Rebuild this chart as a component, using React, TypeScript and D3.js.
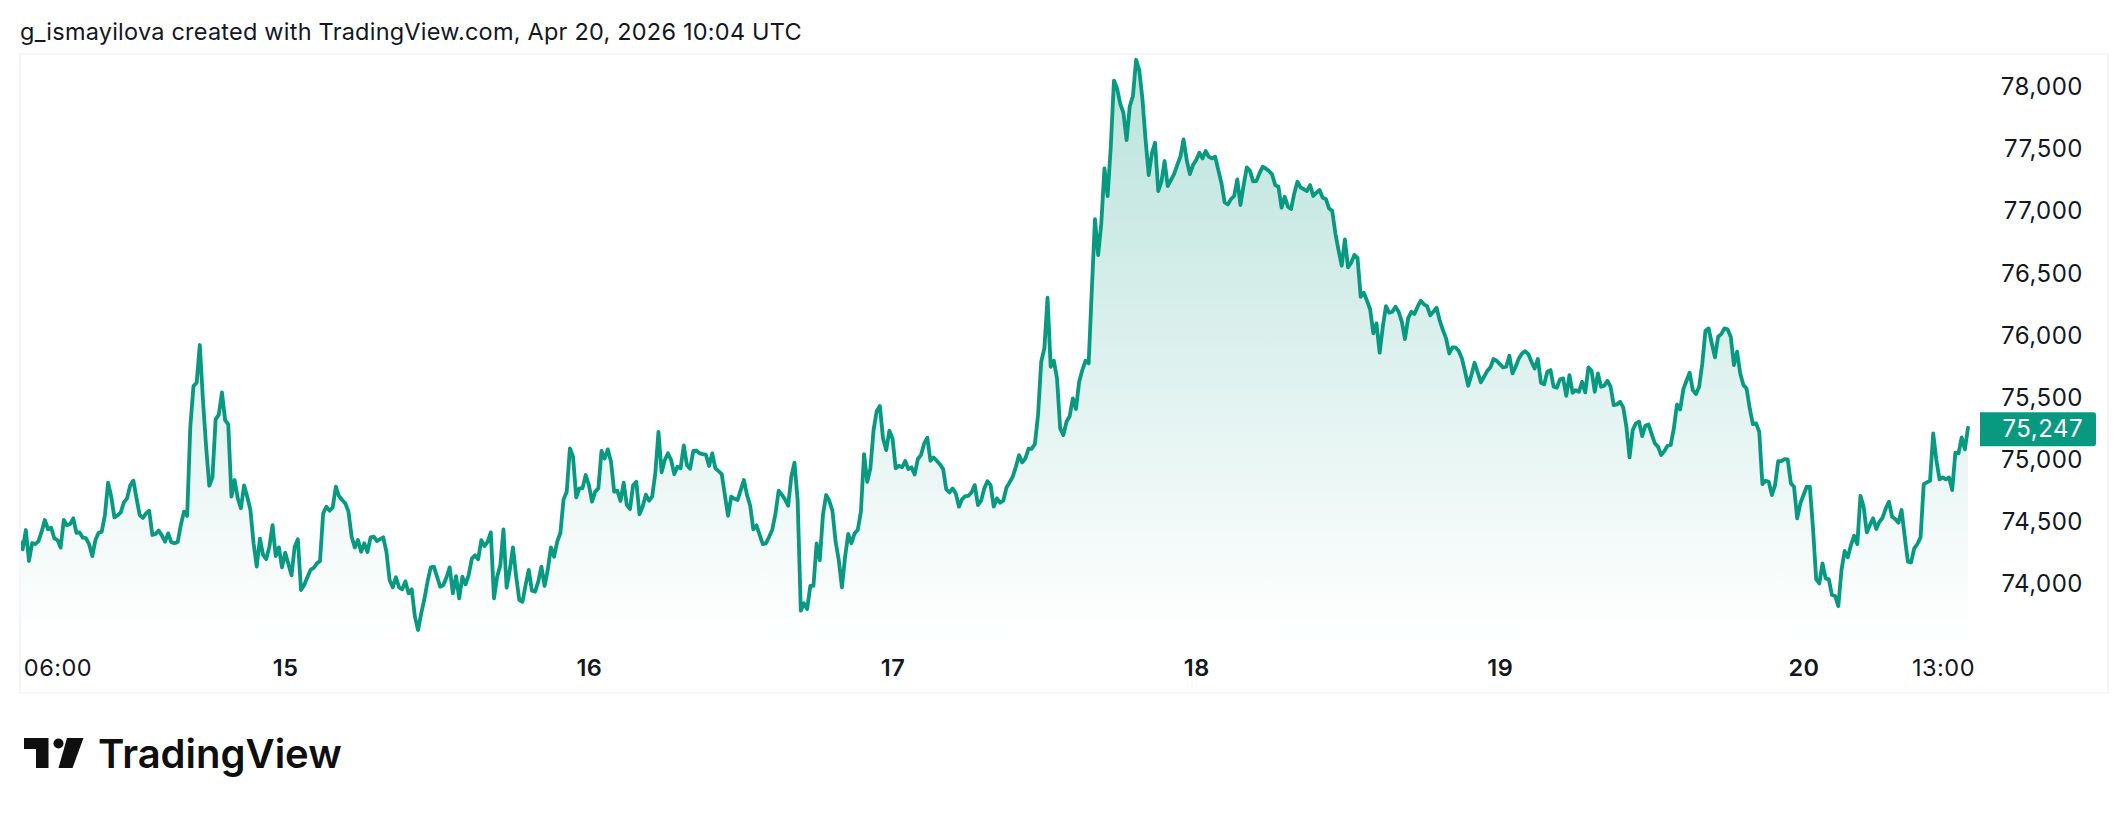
import React, { useEffect, useRef } from 'react';
import * as d3 from 'd3';

// 15 minute closes, one run per stretch of the chart
const seriesStart = Date.UTC(2026, 3, 14, 3, 0);
const slotMinutes = 15;

const run1Start = 0;
const run1 = [
  74337, 74267, 74423, 74173, 74318, 74310, 74334, 74410, 74504, 74428, 74442, 74356, 74342, 74281, 74504, 74461,
  74471, 74517, 74401, 74404, 74361, 74358, 74310, 74213, 74342, 74401, 74410, 74544, 74804, 74692, 74525, 74541,
  74565, 74646, 74678, 74783, 74821, 74678, 74544, 74520, 74557, 74579, 74383, 74391, 74418, 74380, 74329, 74396,
  74324, 74316, 74326, 74463, 74571, 74536, 75256, 75583, 75610, 75914, 75471, 75094, 74780, 74847, 75315, 75352,
  75532, 75309, 75274, 74692, 74826, 74678, 74598, 74783, 74692, 74584, 74316, 74128, 74353, 74222, 74189, 74289,
  74463, 74213, 74283, 74122, 74240, 74149, 74058, 74289, 74348,
];

const run2Start = 89;
const run2 = [
  73939, 73980, 74042, 74101, 74117, 74154, 74173, 74557, 74611, 74579, 74603, 74772, 74697, 74665, 74638, 74571,
  74369, 74283, 74342, 74248, 74316, 74246, 74364, 74369, 74334, 74350, 74364, 74248, 74020, 73961, 74042, 73961,
  73945, 74009, 73913, 73945, 73725, 73617, 73751, 73867, 74007, 74122, 74128, 74047, 73966, 73980, 74042, 74122,
  73913, 74052, 73872, 74047, 73985, 74060, 74192, 74219, 74187, 74342, 74294, 74329, 74404, 73872, 74047, 74138,
  74428, 73958, 74101, 74283, 74052, 73859, 73845, 73980, 74101, 73934, 73926, 74007, 74128, 73972, 74101, 74283,
  74208, 74329, 74401, 74670, 74732, 75081, 75014, 74686, 74759, 74761,
];

const run3Start = 179;
const run3 = [
  74866, 74786, 74651, 74732, 74759, 75060, 75000, 75073, 74974, 74732, 74740, 74657, 74804, 74624, 74592, 74786,
  74812, 74549, 74611, 74708, 74659, 74692, 74880, 75213, 74888, 74987, 75041, 74987, 74874, 74933, 74920, 75105,
  74947, 74917, 75060, 75062, 75041, 75035, 75030, 74939, 75041, 74920, 74898, 74874, 74705, 74538, 74692, 74675,
  74665, 74745, 74826, 74705, 74619, 74428, 74461, 74383, 74310, 74316, 74369, 74428, 74557, 74740, 74708, 74670,
  74619, 74853, 74966, 74665, 73773, 73832, 73786, 73972, 73972, 74316, 74181, 74544, 74705, 74659, 74579, 74329,
  74181, 73961, 74208, 74391, 74316, 74396, 74423, 74571, 75035, 74812, 74920,
];

const run4Start = 270;
const run4 = [
  75228, 75382, 75422, 75161, 75067, 75223, 75161, 74920, 74941, 74928, 74979, 74914, 74928, 74871, 74995, 75027,
  75121, 75167, 74981, 75008, 74981, 74952, 74914, 74750, 74726, 74758, 74718, 74611, 74672, 74697, 74699, 74726,
  74785, 74624, 74659, 74758, 74817, 74785, 74611, 74678, 74643, 74659, 74764, 74807, 74852, 74933, 75027, 74968,
  75000, 75078, 75078, 75116, 75349, 75779, 75887, 76295, 75739, 75787, 75645, 75242, 75188, 75296, 75341, 75484,
  75398, 75618, 75712, 75787, 75766, 76357, 76929, 76639, 76894, 77337, 77114, 77512, 78045, 77981, 77857, 77786,
  77565, 77838, 77920, 78213, 78130, 77899, 77565, 77284, 77461,
];

const run5Start = 359;
const run5 = [
  77544, 77155, 77230, 77397, 77195, 77243, 77292, 77364, 77431, 77571, 77405, 77292, 77364, 77405, 77464, 77418,
  77477, 77431, 77418, 77431, 77324, 77217, 77063, 77047, 77090, 77115, 77249, 77042, 77203, 77346, 77319, 77233,
  77235, 77297, 77351, 77337, 77316, 77289, 77203, 77190, 77021, 77109, 77029, 77010, 77136, 77230, 77184, 77171,
  77155, 77203, 77115, 77141, 77163, 77101, 77090, 77015, 76996, 76814, 76679, 76553, 76765, 76540, 76577, 76639,
  76618, 76303, 76336, 76271, 76201, 76008, 76088, 75852, 76062, 76228, 76174, 76182, 76223, 76182, 76102, 75962,
  76129, 76182, 76164, 76223, 76271, 76242, 76228, 76153, 76182, 76215, 76110,
];

const run6Start = 450;
const run6 = [
  76034, 75967, 75846, 75895, 75895, 75865, 75806, 75699, 75586, 75672, 75771, 75693, 75613, 75658, 75704, 75734,
  75801, 75787, 75760, 75734, 75739, 75828, 75685, 75739, 75806, 75846, 75865, 75841, 75779, 75725, 75801, 75610,
  75597, 75699, 75712, 75578, 75570, 75637, 75645, 75505, 75672, 75529, 75551, 75537, 75618, 75532, 75734, 75707,
  75537, 75685, 75578, 75586, 75626, 75578, 75430, 75435, 75457, 75411, 75255, 75008, 75229, 75282, 75296, 75180,
  75263, 75274, 75196, 75121, 75094, 75027, 75059, 75102, 75108, 75242, 75435, 75395, 75556, 75626, 75691, 75551,
  75519, 75578,
];

const run7Start = 532;
const run7 = [
  75766, 76029, 76048, 75927, 75814, 75981, 76002, 76048, 76040, 75981, 75752, 75860, 75685, 75591, 75564, 75403,
  75277, 75282, 75215, 74793, 74820, 74812, 74705, 74785, 74979, 74979, 74995, 74992, 74799, 74772, 74517, 74638,
  74705, 74772, 74772, 74436, 74028, 73993, 74154, 74033, 74025, 73899, 73891, 73810, 74100, 74254, 74203, 74302,
  74377, 74310, 74699, 74611, 74404, 74463, 74517, 74431, 74490, 74522, 74597, 74651, 74530, 74511, 74482, 74584,
  74369, 74168, 74162, 74275, 74310, 74364, 74793, 74807, 74820, 75202, 74987, 74831, 74847, 74831, 74847, 74745,
  75046, 75041, 75170, 75073, 75247,
];

const priceTicks = [74000, 74500, 75000, 75500, 76000, 76500, 77000, 77500, 78000];
const lastPrice = 75247;

const timeTicks = [
  { at: Date.UTC(2026, 3, 14, 6, 0), label: '06:00', bold: false, shift: 0 },
  { at: Date.UTC(2026, 3, 15), label: '15', bold: true, shift: 0 },
  { at: Date.UTC(2026, 3, 16), label: '16', bold: true, shift: 0 },
  { at: Date.UTC(2026, 3, 17), label: '17', bold: true, shift: 0 },
  { at: Date.UTC(2026, 3, 18), label: '18', bold: true, shift: 0 },
  { at: Date.UTC(2026, 3, 19), label: '19', bold: true, shift: 0 },
  { at: Date.UTC(2026, 3, 20), label: '20', bold: true, shift: 0 },
  { at: Date.UTC(2026, 3, 20, 13, 0), label: '13:00', bold: false, shift: -25 },
];

const titleText = 'g_ismayilova created with TradingView.com, Apr 20, 2026 10:04 UTC';

interface Point {
  time: number;
  price: number;
}

const toPoints = (start: number, prices: number[]): Point[] =>
  prices.map((price, i) => ({
    time: seriesStart + (start + i) * slotMinutes * 60000,
    price,
  }));

const points: Point[] = [
  ...toPoints(run1Start, run1),
  ...toPoints(run2Start, run2),
  ...toPoints(run3Start, run3),
  ...toPoints(run4Start, run4),
  ...toPoints(run5Start, run5),
  ...toPoints(run6Start, run6),
  ...toPoints(run7Start, run7),
];

const width = 2128;
const height = 814;
const fontFamily = 'Inter, "Noto Sans", sans-serif';
const green = '#089981';
const ink = '#131722';

const App: React.FC = () => {
  const ref = useRef<SVGSVGElement>(null);

  useEffect(() => {
    const svg = d3.select(ref.current);
    svg.selectAll('*').remove();

    const frame = { left: 20, right: 2108, top: 54, bottom: 693 };
    const paneBottom = 640;

    const x = d3.scaleUtc()
      .domain([seriesStart, Date.UTC(2026, 3, 20, 13, 0)])
      .range([19.5, 1968]);
    const y = d3.scaleLinear()
      .domain([74000, 78000])
      .range([582.5, 86.2]);

    svg.append('rect')
      .attr('width', width)
      .attr('height', height)
      .attr('fill', '#ffffff');

    svg.append('text')
      .attr('x', 20)
      .attr('y', 40)
      .attr('fill', ink)
      .style('font-size', '23.5px')
      .style('letter-spacing', '0.22px')
      .text(titleText);

    svg.append('rect')
      .attr('x', frame.left)
      .attr('y', frame.top)
      .attr('width', frame.right - frame.left)
      .attr('height', frame.bottom - frame.top)
      .attr('fill', 'none')
      .attr('stroke', '#f0f3fa')
      .attr('stroke-width', 1.5);

    const defs = svg.append('defs');
    const gradient = defs.append('linearGradient')
      .attr('id', 'areaFill')
      .attr('gradientUnits', 'userSpaceOnUse')
      .attr('x1', 0)
      .attr('x2', 0)
      .attr('y1', y(78213))
      .attr('y2', paneBottom);
    gradient.append('stop').attr('offset', 0).attr('stop-color', green).attr('stop-opacity', 0.28);
    gradient.append('stop').attr('offset', 1).attr('stop-color', green).attr('stop-opacity', 0);

    defs.append('clipPath')
      .attr('id', 'paneClip')
      .append('rect')
      .attr('x', frame.left + 1)
      .attr('y', frame.top)
      .attr('width', frame.right - frame.left)
      .attr('height', frame.bottom - frame.top);

    const chart = svg.append('g').attr('clip-path', 'url(#paneClip)');

    const area = d3.area<Point>()
      .x(d => x(d.time))
      .y0(paneBottom)
      .y1(d => y(d.price));
    const line = d3.line<Point>()
      .x(d => x(d.time))
      .y(d => y(d.price));

    chart.append('path')
      .attr('d', area(points))
      .attr('fill', 'url(#areaFill)');
    chart.append('path')
      .attr('d', line(points))
      .attr('fill', 'none')
      .attr('stroke', green)
      .attr('stroke-width', 3.8)
      .attr('stroke-linejoin', 'round')
      .attr('stroke-linecap', 'round');

    // price axis
    const yAxis = d3.axisLeft(y)
      .tickValues(priceTicks)
      .tickSize(0)
      .tickPadding(0)
      .tickFormat(d => d3.format(',')(d as number));
    const yGroup = svg.append('g')
      .attr('transform', 'translate(2083,1)')
      .call(yAxis);
    yGroup.select('.domain').remove();
    yGroup.selectAll('text')
      .attr('fill', ink)
      .style('font-size', '24px')
      .style('letter-spacing', '0.5px')
      .style('font-family', fontFamily);

    // last price tag, square on the left and slightly rounded on the right
    const tagY = y(lastPrice) + 1.5;
    svg.append('path')
      .attr('d', `M1980,${tagY - 17}H2093a3,3 0 0 1 3,3V${tagY + 14}a3,3 0 0 1 -3,3H1980Z`)
      .attr('fill', green);
    svg.append('text')
      .attr('x', 2083)
      .attr('y', tagY)
      .attr('dy', '0.32em')
      .attr('text-anchor', 'end')
      .attr('fill', '#ffffff')
      .style('font-size', '24px')
      .style('letter-spacing', '0.5px')
      .text(d3.format(',')(lastPrice));

    // time axis
    const xAxis = d3.axisBottom(x)
      .tickValues(timeTicks.map(t => new Date(t.at)))
      .tickSize(0)
      .tickPadding(0)
      .tickFormat((_, i) => timeTicks[i].label);
    const xGroup = svg.append('g')
      .attr('transform', 'translate(0,659)')
      .call(xAxis);
    xGroup.select('.domain').remove();
    xGroup.selectAll<SVGTextElement, Date>('text')
      .attr('fill', ink)
      .attr('dx', (_, i) => timeTicks[i].shift)
      .style('font-size', '23.5px')
      .style('letter-spacing', '0.5px')
      .style('font-family', fontFamily)
      .style('font-weight', (_, i) => (timeTicks[i].bold ? 600 : 400));

    // logo
    const logo = svg.append('g').attr('fill', '#0f0f0f');
    logo.append('path').attr('d', 'M24,738H48.5V768H36V749H24Z');
    logo.append('circle').attr('cx', 58.5).attr('cy', 743.5).attr('r', 5);
    logo.append('path').attr('d', 'M67,738H83.5L72.5,768H58.5Z');
    logo.append('text')
      .attr('x', 98)
      .attr('y', 767.5)
      .style('font-size', '40px')
      .style('font-weight', 600)
      .style('font-family', fontFamily)
      .text('TradingView');
  }, []);

  return (
    <svg
      ref={ref}
      width={width}
      height={height}
      style={{ position: 'absolute', left: 0, top: 0, display: 'block', fontFamily }}
    />
  );
};

export default App;
